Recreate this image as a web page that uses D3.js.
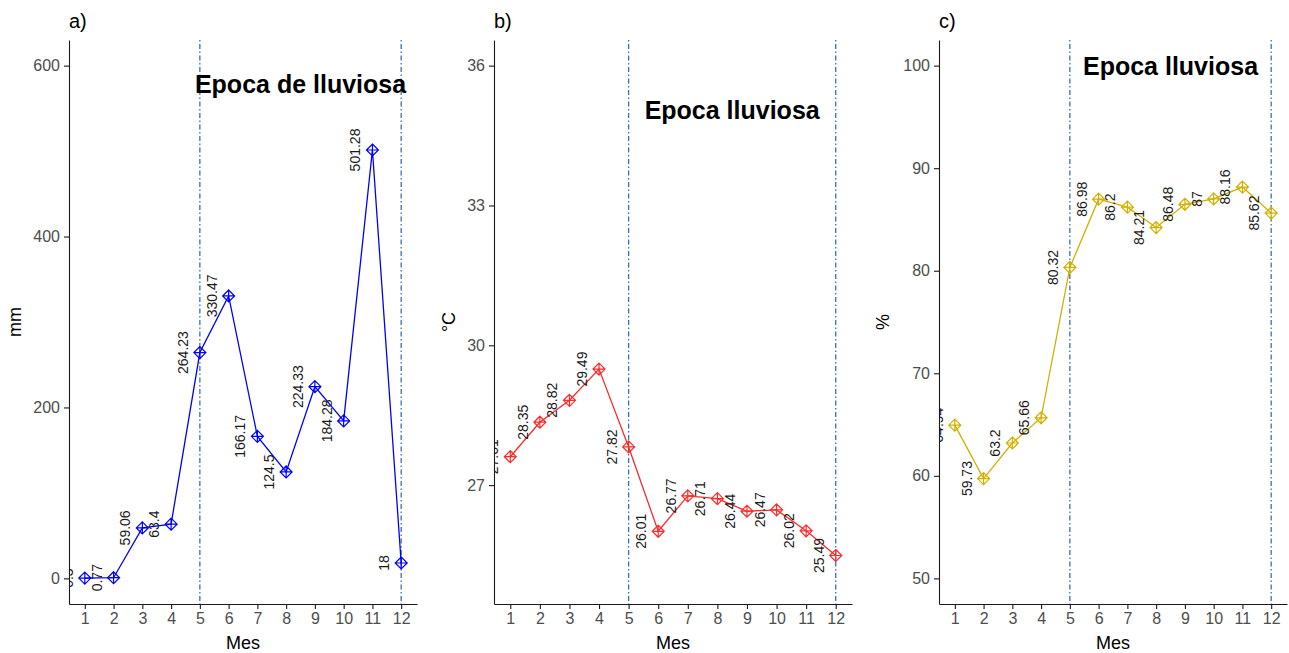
<!DOCTYPE html>
<html>
<head>
<meta charset="utf-8">
<script src="https://cdn.jsdelivr.net/npm/d3@7"></script>
<style>
	body { margin: 0; background: #fff; }
	svg { display: block; font-family: 'Liberation Sans', Arial, sans-serif; }
	.axis path, .axis line { stroke: #1a1a1a; stroke-width: 1.1px; }
	.axis text { fill: #4d4d4d; font-size: 16px; }
	.axis-title { fill: #000; font-size: 18px; }
	.panel-tag { fill: #000; font-size: 20px; }
	.season { fill: #000; font-size: 25px; font-weight: bold; }
	.value-label { fill: #1a1a1a; font-size: 14px; }
</style>
</head>
<body>
<svg id="chart" width="1289" height="653"></svg>
<script>

var months = [ 1, 2, 3, 4, 5, 6, 7, 8, 9, 10, 11, 12 ];

var precipitation = [ 0.3, 0.77, 59.06, 63.4, 264.23, 330.47, 166.17, 124.5, 224.33, 184.28, 501.28, 18 ];
var temperature = [ 27.61, 28.35, 28.82, 29.49, 27.82, 26.01, 26.77, 26.71, 26.44, 26.47, 26.02, 25.49 ];
var humidity = [ 64.94, 59.73, 63.2, 65.66, 80.32, 86.98, 86.2, 84.21, 86.48, 87, 88.16, 85.62 ];

var precipTicks = [ 0, 200, 400, 600 ];
var tempTicks = [ 27, 30, 33, 36 ];
var humidityTicks = [ 50, 60, 70, 80, 90, 100 ];

// start and end of the rainy season (months)
var seasonMonths = [ 5, 12 ];

var panels = [
	{ tag: 'a)', yTitle: 'mm', values: precipitation, ticks: precipTicks, limits: [ 0, 600 ],
		color: '#0000ff', note: 'Epoca de lluviosa', noteAt: [ 8.5, 578 ], left: 69, right: 417, titleGap: 54 },
	{ tag: 'b)', yTitle: '°C', values: temperature, ticks: tempTicks, limits: [ 25, 36 ],
		color: '#ff2a2a', note: 'Epoca lluviosa', noteAt: [ 8.5, 35.05 ], left: 494, right: 852, titleGap: 45 },
	{ tag: 'c)', yTitle: '%', values: humidity, ticks: humidityTicks, limits: [ 50, 100 ],
		color: '#d2b000', note: 'Epoca lluviosa', noteAt: [ 8.5, 100 ], left: 939, right: 1287, titleGap: 56 }
];

var plotTop = 40;
var plotBottom = 604;

var svg = d3.select( '#chart' );

// diamond with a plus inside (ggplot shape 9)
var marker = function ( r ) {
	return 'M0,' + ( -r ) + 'L' + r + ',0L0,' + r + 'L' + ( -r ) + ',0Z' +
		'M0,' + ( -r ) + 'V' + r + 'M' + ( -r ) + ',0H' + r;
};

panels.forEach( function ( p, idx ) {

	var xSpan = months[ months.length - 1 ] - months[0];
	var x = d3.scaleLinear()
		.domain( [ months[0] - xSpan * 0.05, months[ months.length - 1 ] + xSpan * 0.05 ] )
		.range( [ p.left, p.right ] );

	var ySpan = p.limits[1] - p.limits[0];
	var y = d3.scaleLinear()
		.domain( [ p.limits[0] - ySpan * 0.05, p.limits[1] + ySpan * 0.05 ] )
		.range( [ plotBottom, plotTop ] );

	var g = svg.append( 'g' );

	g.append( 'clipPath' )
		.attr( 'id', 'clip-' + idx )
		.append( 'rect' )
		.attr( 'x', p.left )
		.attr( 'y', plotTop )
		.attr( 'width', p.right - p.left )
		.attr( 'height', plotBottom - plotTop );

	var plot = g.append( 'g' ).attr( 'clip-path', 'url(#clip-' + idx + ')' );

	plot.selectAll( 'line.season-line' )
		.data( seasonMonths )
		.enter()
		.append( 'line' )
		.classed( 'season-line', true )
		.attr( 'x1', function ( d ) { return x( d ); } )
		.attr( 'x2', function ( d ) { return x( d ); } )
		.attr( 'y1', plotTop )
		.attr( 'y2', plotBottom )
		.attr( 'stroke', '#3a72ae' )
		.attr( 'stroke-width', 1.3 )
		.attr( 'stroke-dasharray', '1.5,2.5,5,2.5' );

	var data = months.map( function ( m, i ) {
		return { month: m, value: p.values[i] };
	} );

	var line = d3.line()
		.x( function ( d ) { return x( d.month ); } )
		.y( function ( d ) { return y( d.value ); } );

	plot.append( 'path' )
		.datum( data )
		.attr( 'd', line )
		.attr( 'fill', 'none' )
		.attr( 'stroke', p.color )
		.attr( 'stroke-width', 1.3 );

	plot.selectAll( 'path.pt' )
		.data( data )
		.enter()
		.append( 'path' )
		.classed( 'pt', true )
		.attr( 'd', marker( 6 ) )
		.attr( 'transform', function ( d ) { return 'translate(' + x( d.month ) + ',' + y( d.value ) + ')'; } )
		.attr( 'fill', 'none' )
		.attr( 'stroke', p.color )
		.attr( 'stroke-width', 1.2 );

	plot.selectAll( 'text.value-label' )
		.data( data )
		.enter()
		.append( 'text' )
		.classed( 'value-label', true )
		.attr( 'transform', function ( d ) {
			return 'translate(' + ( x( d.month ) - 17 ) + ',' + y( d.value ) + ') rotate(-90)';
		} )
		.attr( 'text-anchor', 'middle' )
		.attr( 'dy', '0.36em' )
		.text( function ( d ) { return d.value; } );

	plot.append( 'text' )
		.classed( 'season', true )
		.attr( 'x', x( p.noteAt[0] ) )
		.attr( 'y', y( p.noteAt[1] ) )
		.attr( 'text-anchor', 'middle' )
		.attr( 'dy', '0.36em' )
		.text( p.note );

	var xAxis = d3.axisBottom( x )
		.tickValues( months )
		.tickSize( 5 )
		.tickPadding( 4 )
		.tickSizeOuter( 0 );

	var yAxis = d3.axisLeft( y )
		.tickValues( p.ticks )
		.tickSize( 5 )
		.tickPadding( 4 )
		.tickSizeOuter( 0 );

	g.append( 'g' )
		.classed( 'axis', true )
		.attr( 'transform', 'translate(0,' + plotBottom + ')' )
		.call( xAxis );

	g.append( 'g' )
		.classed( 'axis', true )
		.attr( 'transform', 'translate(' + p.left + ',0)' )
		.call( yAxis );

	g.append( 'text' )
		.classed( 'axis-title', true )
		.attr( 'x', ( p.left + p.right ) / 2 )
		.attr( 'y', 643 )
		.attr( 'text-anchor', 'middle' )
		.attr( 'dy', '0.36em' )
		.text( 'Mes' );

	g.append( 'text' )
		.classed( 'axis-title', true )
		.attr( 'transform', 'translate(' + ( p.left - p.titleGap ) + ',' + ( ( plotTop + plotBottom ) / 2 ) + ') rotate(-90)' )
		.attr( 'text-anchor', 'middle' )
		.attr( 'dy', '0.36em' )
		.text( p.yTitle );

	g.append( 'text' )
		.classed( 'panel-tag', true )
		.attr( 'x', p.left )
		.attr( 'y', 28 )
		.text( p.tag );

} );

</script>
</body>
</html>
